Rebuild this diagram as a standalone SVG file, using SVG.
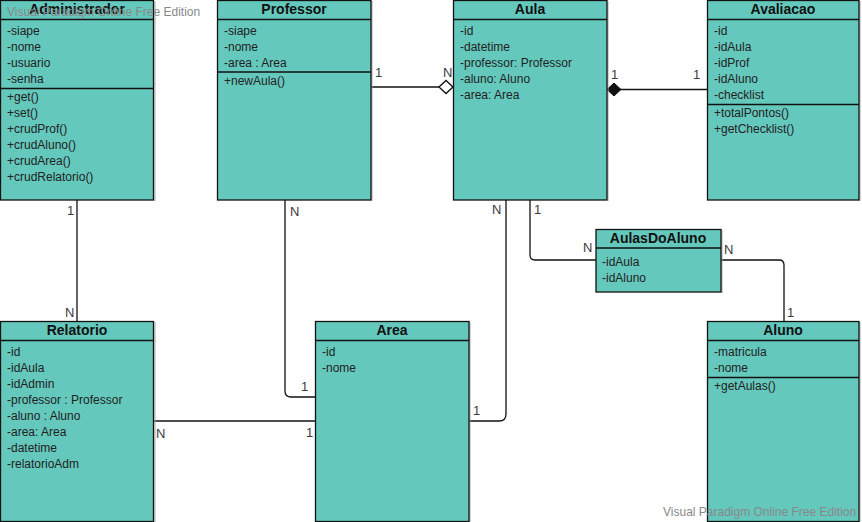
<svg xmlns="http://www.w3.org/2000/svg" width="862" height="522" viewBox="0 0 862 522">
  <style>
    .box { fill: #65c8bd; stroke: #111; stroke-width: 1.3; }
    .shadow { fill: none; stroke: #aaa; stroke-width: 1; }
    .sep { stroke: #111; stroke-width: 1.3; }
    .title { font-family: "Liberation Sans", Arial, sans-serif; font-size: 14px; font-weight: bold; fill: #111; text-anchor: middle; }
    .item { font-family: "Liberation Sans", Arial, sans-serif; font-size: 12px; fill: #222; }
    .lbl { font-family: "Liberation Sans", Arial, sans-serif; font-size: 13px; fill: #3a3a3a; }
    .wire { fill: none; stroke: #111; stroke-width: 1.3; }
    .wm { font-family: "Liberation Sans", Arial, sans-serif; font-size: 12px; fill: #888; }
  </style>
  <rect width="862" height="522" fill="#fff"/>

  <g id="connectors">
    <!-- Professor 1 — N Aula (aggregation) -->
    <path class="wire" d="M371 87 H440"/>
    <path d="M439 87 L446 80.5 L453 87 L446 93.5 Z" fill="#fff" stroke="#111" stroke-width="1.3"/>
    <text class="lbl" x="375" y="77">1</text>
    <text class="lbl" x="443" y="77">N</text>
    <!-- Aula 1 — 1 Avaliacao (composition) -->
    <path class="wire" d="M620 89.5 H707"/>
    <path d="M607 89.5 L614 83 L621 89.5 L614 96 Z" fill="#111" stroke="#111" stroke-width="1"/>
    <text class="lbl" x="611" y="79">1</text>
    <text class="lbl" x="693" y="79">1</text>
    <!-- Aula 1 — N AulasDoAluno -->
    <path class="wire" d="M530 200 V255 Q530 260 535 260 H596"/>
    <text class="lbl" x="534" y="214">1</text>
    <text class="lbl" x="583" y="252">N</text>
    <!-- AulasDoAluno N — 1 Aluno -->
    <path class="wire" d="M721 260 H779 Q784 260 784 265 V321"/>
    <text class="lbl" x="724" y="254">N</text>
    <text class="lbl" x="787" y="317">1</text>
    <!-- Aula N — 1 Area -->
    <path class="wire" d="M506 200 V414 Q506 421 499 421 H469"/>
    <text class="lbl" x="492" y="214">N</text>
    <text class="lbl" x="473" y="415">1</text>
    <!-- Professor N — 1 Area -->
    <path class="wire" d="M285 200 V391 Q285 397 291 397 H315"/>
    <text class="lbl" x="290" y="216">N</text>
    <text class="lbl" x="301" y="391">1</text>
    <!-- Relatorio N — 1 Area -->
    <path class="wire" d="M154 421 H315"/>
    <text class="lbl" x="156" y="438">N</text>
    <text class="lbl" x="306" y="437">1</text>
    <!-- Administrador 1 — N Relatorio -->
    <path class="wire" d="M77 200 V321"/>
    <text class="lbl" x="67" y="215">1</text>
    <text class="lbl" x="65" y="317">N</text>
  </g>

  <g id="Administrador">
    <path class="shadow" d="M155 1 V201"/>
    <rect class="box" x="0.5" y="0.5" width="153" height="199.5"/>
    <line class="sep" x1="0.5" y1="19.5" x2="153.5" y2="19.5"/>
    <line class="sep" x1="0.5" y1="88.5" x2="153.5" y2="88.5"/>
    <text class="title" x="77" y="14">Administrador</text>
    <text class="item" x="7" y="35">-siape</text>
    <text class="item" x="7" y="51">-nome</text>
    <text class="item" x="7" y="67">-usuario</text>
    <text class="item" x="7" y="83">-senha</text>
    <text class="item" x="7" y="101">+get()</text>
    <text class="item" x="7" y="117">+set()</text>
    <text class="item" x="7" y="133">+crudProf()</text>
    <text class="item" x="7" y="149">+crudAluno()</text>
    <text class="item" x="7" y="165">+crudArea()</text>
    <text class="item" x="7" y="181">+crudRelatorio()</text>
  </g>

  <g id="Professor">
    <path class="shadow" d="M372 1 V201"/>
    <rect class="box" x="217.5" y="0.5" width="153.5" height="199.5"/>
    <line class="sep" x1="217.5" y1="19.5" x2="371" y2="19.5"/>
    <line class="sep" x1="217.5" y1="72" x2="371" y2="72"/>
    <text class="title" x="294" y="14">Professor</text>
    <text class="item" x="224" y="35">-siape</text>
    <text class="item" x="224" y="51">-nome</text>
    <text class="item" x="224" y="67">-area : Area</text>
    <text class="item" x="224" y="85">+newAula()</text>
  </g>

  <g id="Aula">
    <path class="shadow" d="M608 1 V201"/>
    <rect class="box" x="453.5" y="0.5" width="153.5" height="199.5"/>
    <line class="sep" x1="453.5" y1="19.5" x2="607" y2="19.5"/>
    <text class="title" x="530" y="14">Aula</text>
    <text class="item" x="460" y="35">-id</text>
    <text class="item" x="460" y="51">-datetime</text>
    <text class="item" x="460" y="67">-professor: Professor</text>
    <text class="item" x="460" y="83">-aluno: Aluno</text>
    <text class="item" x="460" y="99">-area: Area</text>
  </g>

  <g id="Avaliacao">
    <path class="shadow" d="M860 1 V201"/>
    <rect class="box" x="707.5" y="0.5" width="151.5" height="199.5"/>
    <line class="sep" x1="707.5" y1="19.5" x2="859" y2="19.5"/>
    <line class="sep" x1="707.5" y1="104.5" x2="859" y2="104.5"/>
    <text class="title" x="783" y="14">Avaliacao</text>
    <text class="item" x="714" y="35">-id</text>
    <text class="item" x="714" y="51">-idAula</text>
    <text class="item" x="714" y="67">-idProf</text>
    <text class="item" x="714" y="83">-idAluno</text>
    <text class="item" x="714" y="99">-checklist</text>
    <text class="item" x="714" y="117">+totalPontos()</text>
    <text class="item" x="714" y="133">+getChecklist()</text>
  </g>

  <g id="AulasDoAluno">
    <path class="shadow" d="M722 230 V293"/>
    <rect class="box" x="596" y="229.5" width="125" height="62.5"/>
    <line class="sep" x1="596" y1="248" x2="721" y2="248"/>
    <text class="title" x="658" y="243">AulasDoAluno</text>
    <text class="item" x="602" y="266">-idAula</text>
    <text class="item" x="602" y="282">-idAluno</text>
  </g>

  <g id="Relatorio">
    <path class="shadow" d="M155 322 V522"/>
    <rect class="box" x="0.5" y="321.5" width="153" height="200"/>
    <line class="sep" x1="0.5" y1="340.5" x2="153.5" y2="340.5"/>
    <text class="title" x="77" y="335">Relatorio</text>
    <text class="item" x="7" y="356">-id</text>
    <text class="item" x="7" y="372">-idAula</text>
    <text class="item" x="7" y="388">-idAdmin</text>
    <text class="item" x="7" y="404">-professor : Professor</text>
    <text class="item" x="7" y="420">-aluno : Aluno</text>
    <text class="item" x="7" y="436">-area: Area</text>
    <text class="item" x="7" y="452">-datetime</text>
    <text class="item" x="7" y="468">-relatorioAdm</text>
  </g>

  <g id="Area">
    <path class="shadow" d="M470 322 V522"/>
    <rect class="box" x="315.5" y="321.5" width="153.5" height="200"/>
    <line class="sep" x1="315.5" y1="340.5" x2="469" y2="340.5"/>
    <text class="title" x="392" y="335">Area</text>
    <text class="item" x="322" y="356">-id</text>
    <text class="item" x="322" y="372">-nome</text>
  </g>

  <g id="Aluno">
    <path class="shadow" d="M860 322 V522"/>
    <rect class="box" x="707.5" y="321.5" width="151.5" height="200"/>
    <line class="sep" x1="707.5" y1="340.5" x2="859" y2="340.5"/>
    <line class="sep" x1="707.5" y1="377.5" x2="859" y2="377.5"/>
    <text class="title" x="783" y="335">Aluno</text>
    <text class="item" x="714" y="356">-matricula</text>
    <text class="item" x="714" y="372">-nome</text>
    <text class="item" x="714" y="390">+getAulas()</text>
  </g>

  <g id="watermarks">
    <text class="wm" x="7" y="16">Visual Paradigm Online Free Edition</text>
    <text class="wm" x="663" y="516">Visual Paradigm Online Free Edition</text>
  </g>
</svg>
